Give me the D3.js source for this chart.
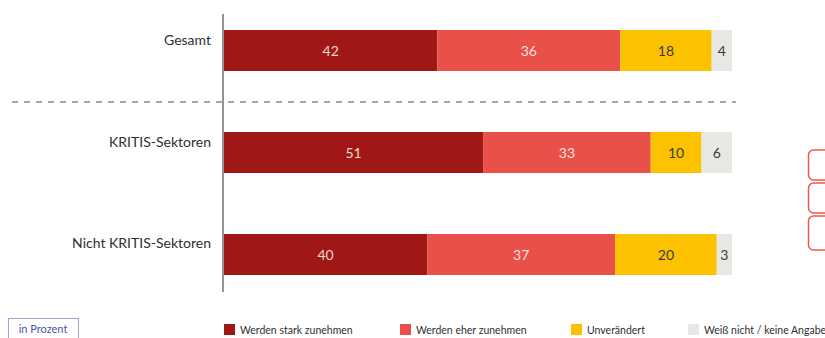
<!DOCTYPE html>
<html>
<head>
<meta charset="utf-8">
<script src="https://cdn.jsdelivr.net/npm/d3@7"></script>
<style>
  html, body { margin: 0; padding: 0; background: #fff; }
  svg { display: block; font-family: Lato, "Open Sans", sans-serif; }
</style>
</head>
<body>
<svg id="chart" width="825" height="338"></svg>
<script>
// Survey groups and answer shares (percent)
const groups = ["Gesamt", "KRITIS-Sektoren", "Nicht KRITIS-Sektoren"];
const seriesNames = ["Werden stark zunehmen", "Werden eher zunehmen", "Unverändert", "Weiß nicht / keine Angabe"];
const starkZunehmen = [42, 51, 40];
const eherZunehmen = [36, 33, 37];
const unveraendert = [18, 10, 20];
const weissNicht = [4, 6, 3];
const seriesColors = ["#9f1815", "#e9504a", "#fcc200", "#e7e7e3"];
const labelColors = ["#f3d6d3", "#fbe1df", "#3a3a3a", "#3a3a3a"];

const svg = d3.select("#chart");

const rows = groups.map((g, i) => ({
  group: g,
  values: [starkZunehmen[i], eherZunehmen[i], unveraendert[i], weissNicht[i]]
}));

const x = d3.scaleLinear().domain([0, 100]).range([224, 732]);
const y = d3.scaleBand().domain(groups).range([30, 275]).paddingInner(0.598).paddingOuter(0);

// Stacked segments
rows.forEach(r => {
  let acc = 0;
  const segs = r.values.map((v, k) => { const s = { k, v, x0: acc, x1: acc + v }; acc += v; return s; });
  const g = svg.append("g");
  g.selectAll("rect").data(segs).join("rect")
    .attr("x", d => x(d.x0))
    .attr("y", y(r.group))
    .attr("width", d => x(d.x1) - x(d.x0))
    .attr("height", y.bandwidth())
    .attr("fill", d => seriesColors[d.k]);
  g.selectAll("text").data(segs).join("text")
    .attr("x", d => (x(d.x0) + x(d.x1)) / 2)
    .attr("y", y(r.group) + y.bandwidth() / 2)
    .attr("dy", "0.36em")
    .attr("text-anchor", "middle")
    .attr("font-size", 14)
    .attr("fill", d => labelColors[d.k])
    .text(d => d.v);
});

// Category labels
svg.append("g").selectAll("text").data(groups).join("text")
  .attr("x", 211)
  .attr("y", d => y(d) + y.bandwidth() / 2 - 6)
  .attr("text-anchor", "end")
  .attr("font-size", 14)
  .attr("fill", "#2f2f2f")
  .text(d => d);

// Vertical baseline
svg.append("line")
  .attr("x1", 223).attr("x2", 223)
  .attr("y1", 14).attr("y2", 292)
  .attr("stroke", "#6b6f78").attr("stroke-width", 1.5);

// Separator between total and sub groups
svg.append("line")
  .attr("x1", 12).attr("x2", 736)
  .attr("y1", 102).attr("y2", 102)
  .attr("stroke", "#8a8a8a").attr("stroke-width", 1.3)
  .attr("stroke-dasharray", "6,6");

// Unit note
svg.append("rect")
  .attr("x", 8.5).attr("y", 318.5).attr("width", 70).attr("height", 24)
  .attr("fill", "#fff").attr("stroke", "#9fa6d6").attr("stroke-width", 1);
svg.append("text")
  .attr("x", 43).attr("y", 333)
  .attr("text-anchor", "middle")
  .attr("font-size", 11)
  .attr("fill", "#4a56a6")
  .text("in Prozent");

// Legend
const legendX = [224, 400, 571, 688];
const lg = svg.append("g").selectAll("g").data(seriesNames).join("g")
  .attr("transform", (d, i) => `translate(${legendX[i]},324)`);
lg.append("rect").attr("width", 11).attr("height", 11).attr("fill", (d, i) => seriesColors[i]);
lg.append("text").attr("x", 16).attr("y", 9.5).attr("font-size", 10.5).attr("fill", "#2f2f2f").text(d => d);

// Partially visible button outlines at the right edge
const btnY = [150, 183, 216];
const btnH = [30, 30, 34];
svg.append("g").selectAll("rect").data(btnY).join("rect")
  .attr("x", 808.5).attr("y", d => d)
  .attr("width", 40).attr("height", (d, i) => btnH[i])
  .attr("rx", 5)
  .attr("fill", "#fff").attr("stroke", "#f0564e").attr("stroke-width", 1.5);
</script>
</body>
</html>
